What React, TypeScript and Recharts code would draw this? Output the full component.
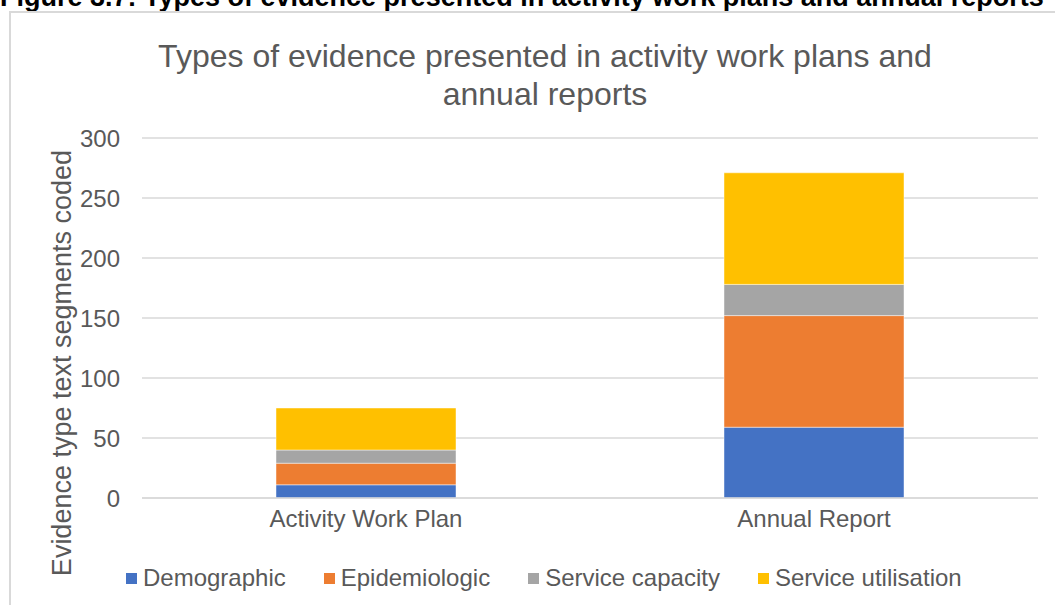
import { BarChart, Bar, XAxis, YAxis, CartesianGrid } from "recharts";

const categories = ["Activity Work Plan", "Annual Report"];
const demographic = [11, 59];
const epidemiologic = [18, 93];
const serviceCapacity = [11, 26];
const serviceUtilisation = [35, 93];
const yTicks = [0, 50, 100, 150, 200, 250, 300];

const series = [
  { key: "demographic", name: "Demographic", color: "#4472C4" },
  { key: "epidemiologic", name: "Epidemiologic", color: "#ED7D31" },
  { key: "capacity", name: "Service capacity", color: "#A5A5A5" },
  { key: "utilisation", name: "Service utilisation", color: "#FFC000" },
];

const data = categories.map((name, i) => ({
  name,
  demographic: demographic[i],
  epidemiologic: epidemiologic[i],
  capacity: serviceCapacity[i],
  utilisation: serviceUtilisation[i],
}));

const FONT = "'Liberation Sans', Arial, sans-serif";
const GREY = "#595959";

// legend drawn under the axis, same row layout as the office chart
const LegendRow = () => (
  <div
    style={{
      position: "absolute",
      left: 126,
      top: 564,
      display: "flex",
      fontFamily: FONT,
      fontSize: 24,
      lineHeight: "28px",
      color: GREY,
      whiteSpace: "nowrap",
    }}
  >
    {series.map((s) => (
      <div key={s.key} style={{ display: "flex", alignItems: "center", marginRight: 38 }}>
        <span style={{ width: 11, height: 11, background: s.color, marginRight: 6, display: "inline-block" }} />
        <span>{s.name}</span>
      </div>
    ))}
  </div>
);

export default function App() {
  return (
    <div style={{ position: "fixed", left: 0, top: 0, width: 1055, height: 605, overflow: "hidden", background: "#fff" }}>
      <div
        style={{
          position: "absolute",
          left: 0,
          top: -16,
          whiteSpace: "nowrap",
          fontFamily: FONT,
          fontWeight: "bold",
          fontSize: 27,
          lineHeight: "27px",
          color: "#000",
        }}
      >
        Figure 3.7: Types of evidence presented in activity work plans and annual reports
      </div>
      <div
        style={{
          position: "absolute",
          left: 9,
          top: 11,
          width: 1100,
          height: 700,
          border: "2px solid #d9d9d9",
          boxSizing: "border-box",
        }}
      />
      <div
        style={{
          position: "absolute",
          left: 545,
          top: 37,
          transform: "translateX(-50%)",
          textAlign: "center",
          whiteSpace: "nowrap",
          fontFamily: FONT,
          fontSize: 32,
          lineHeight: "38px",
          color: GREY,
        }}
      >
        Types of evidence presented in activity work plans and
        <br />
        annual reports
      </div>
      <div
        style={{
          position: "absolute",
          left: 62,
          top: 363,
          transform: "translate(-50%, -50%) rotate(-90deg)",
          whiteSpace: "nowrap",
          fontFamily: FONT,
          fontSize: 27,
          color: GREY,
        }}
      >
        Evidence type text segments coded
      </div>
      <div style={{ position: "absolute", left: 0, top: 0 }}>
        <BarChart width={1055} height={605} data={data} margin={{ top: 138, right: 17, bottom: 67, left: 0 }}>
          <CartesianGrid vertical={false} stroke="#d9d9d9" strokeWidth={1.5} />
          <XAxis
            dataKey="name"
            axisLine={{ stroke: "#d9d9d9", strokeWidth: 1.5 }}
            tickLine={false}
            tickMargin={6}
            tick={{ fill: GREY, fontSize: 24, fontFamily: FONT }}
            height={40}
          />
          <YAxis
            width={142}
            domain={[0, 300]}
            ticks={yTicks}
            axisLine={false}
            tickLine={false}
            tickMargin={16}
            tick={{ fill: GREY, fontSize: 24, fontFamily: FONT }}
          />
          {series.map((s) => (
            <Bar
              key={s.key}
              dataKey={s.key}
              name={s.name}
              stackId="a"
              fill={s.color}
              stroke="#ffffff"
              strokeOpacity={0.6}
              strokeWidth={0.75}
              barSize={180}
              isAnimationActive={false}
            />
          ))}
        </BarChart>
      </div>
      <LegendRow />
    </div>
  );
}
